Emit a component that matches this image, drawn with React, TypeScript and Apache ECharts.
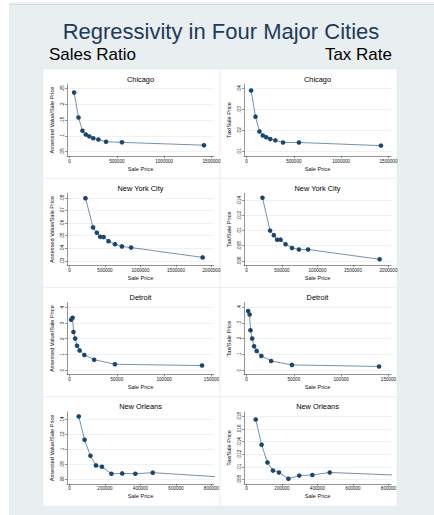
import React, { useEffect, useRef } from "react";
import * as echarts from "echarts";

// ---------------- DATA ----------------
const cities = ["Chicago", "New York City", "Detroit", "New Orleans"];
const salesRatioName = "Assessed Value/Sale Price";
const taxRateName = "Tax/Sale Price";
const xName = "Sale Price";

const chicagoPrice = [49000, 95000, 137000, 172000, 209000, 251000, 305000, 386000, 554000, 1420000];
const chicagoSR = [0.237, 0.158, 0.116, 0.104, 0.098, 0.092, 0.088, 0.081, 0.079, 0.07];
const chicagoTR = [0.039, 0.0266, 0.0195, 0.0176, 0.0168, 0.0159, 0.0153, 0.0143, 0.0143, 0.0128];

const nycPrice = [225000, 332000, 385000, 432000, 480000, 550000, 641000, 738000, 868000, 1875000];
const nycSR = [0.0797, 0.0565, 0.0523, 0.049, 0.0488, 0.0456, 0.0432, 0.0414, 0.0405, 0.0327];
const nycTR = [0.01435, 0.01, 0.0094, 0.0088, 0.0088, 0.0082, 0.0077, 0.0075, 0.0075, 0.0062];

const detroitPrice = [1700, 3300, 4200, 6000, 8000, 10700, 15700, 26000, 48000, 140000];
const detroitSR = [3.2, 3.32, 2.42, 2.0, 1.54, 1.25, 0.96, 0.66, 0.37, 0.29];
const detroitTR = [0.375, 0.353, 0.253, 0.2, 0.151, 0.122, 0.09, 0.058, 0.033, 0.023];

const noPrice = [52000, 85000, 118000, 149000, 183000, 236000, 297000, 371000, 469000, 827000];
const noSR = [0.1444, 0.113, 0.0916, 0.0787, 0.0769, 0.0676, 0.068, 0.0676, 0.069, 0.0636];
const noTR = [0.0175, 0.0135, 0.0107, 0.0094, 0.0091, 0.0081, 0.0086, 0.0087, 0.0091, 0.0087];

const chicagoSRTicks = [0.05, 0.1, 0.15, 0.2, 0.25];
const chicagoTRTicks = [0.01, 0.02, 0.03, 0.04];
const chicagoXTicks = [0, 500000, 1000000, 1500000];
const nycSRTicks = [0.03, 0.04, 0.05, 0.06, 0.07, 0.08];
const nycTRTicks = [0.006, 0.008, 0.01, 0.012, 0.014];
const nycXTicks = [0, 500000, 1000000, 1500000, 2000000];
const detroitSRTicks = [0, 1, 2, 3, 4];
const detroitTRTicks = [0, 0.1, 0.2, 0.3, 0.4];
const detroitXTicks = [0, 50000, 100000, 150000];
const noSRTicks = [0.06, 0.08, 0.1, 0.12, 0.14];
const noTRTicks = [0.008, 0.01, 0.012, 0.014, 0.016, 0.018];
const noXTicks = [0, 200000, 400000, 600000, 800000];

const mainTitle = "Regressivity in Four Major Cities";
const leftHeader = "Sales Ratio";
const rightHeader = "Tax Rate";

// ---------------- STYLE / LAYOUT ----------------
const FONT = "'Liberation Sans', Arial, Helvetica, sans-serif";
const NAVY = "#1a476f";
const AXIS = "#2a2a2a";
const CELL_X = [43, 220];
const CELL_W = 177;
const CELL_Y0 = 69;
const CELL_H = 109.3;
const G_LEFT = 24;
const G_W = 147;
const G_TOP = 15;
const G_H = 72;

type Panel = {
  title: string;
  price: number[];
  values: number[];
  yTicks: number[];
  xTicks: number[];
  yName: string;
  col: number;
  row: number;
};

const panels: Panel[] = [
  { title: cities[0], price: chicagoPrice, values: chicagoSR, yTicks: chicagoSRTicks, xTicks: chicagoXTicks, yName: salesRatioName, col: 0, row: 0 },
  { title: cities[0], price: chicagoPrice, values: chicagoTR, yTicks: chicagoTRTicks, xTicks: chicagoXTicks, yName: taxRateName, col: 1, row: 0 },
  { title: cities[1], price: nycPrice, values: nycSR, yTicks: nycSRTicks, xTicks: nycXTicks, yName: salesRatioName, col: 0, row: 1 },
  { title: cities[1], price: nycPrice, values: nycTR, yTicks: nycTRTicks, xTicks: nycXTicks, yName: taxRateName, col: 1, row: 1 },
  { title: cities[2], price: detroitPrice, values: detroitSR, yTicks: detroitSRTicks, xTicks: detroitXTicks, yName: salesRatioName, col: 0, row: 2 },
  { title: cities[2], price: detroitPrice, values: detroitTR, yTicks: detroitTRTicks, xTicks: detroitXTicks, yName: taxRateName, col: 1, row: 2 },
  { title: cities[3], price: noPrice, values: noSR, yTicks: noSRTicks, xTicks: noXTicks, yName: salesRatioName, col: 0, row: 3 },
  { title: cities[3], price: noPrice, values: noTR, yTicks: noTRTicks, xTicks: noXTicks, yName: taxRateName, col: 1, row: 3 },
];

function fmt(v: number): string {
  if (v === 0) return "0";
  const s = String(+v.toPrecision(8));
  return s.replace(/^0\./, ".").replace(/^-0\./, "-.");
}

function buildOption() {
  const grids: any[] = [];
  const xAxes: any[] = [];
  const yAxes: any[] = [];
  const series: any[] = [];
  const graphics: any[] = [];

  // page background
  graphics.push({ type: "rect", z: -30, shape: { x: 0, y: 0, width: 434, height: 515 }, style: { fill: "#ffffff" } });
  graphics.push({ type: "rect", z: -29, shape: { x: 9, y: 4, width: 425, height: 511 }, style: { fill: "#e9eff1" } });
  graphics.push({
    type: "rect",
    z: -28,
    shape: { x: 9, y: 1, width: 425, height: 4 },
    style: {
      fill: new echarts.graphic.LinearGradient(0, 0, 0, 1, [
        { offset: 0, color: "rgba(0,0,0,0)" },
        { offset: 1, color: "rgba(0,0,0,0.10)" },
      ]),
    },
  });

  graphics.push({
    type: "text",
    z: 10,
    style: { x: 221, y: 31, text: mainTitle, textAlign: "center", textVerticalAlign: "middle", fontSize: 22, fontFamily: FONT, fill: "#22395a" },
  });
  graphics.push({
    type: "text",
    z: 10,
    style: { x: 49, y: 54.5, text: leftHeader, textAlign: "left", textVerticalAlign: "middle", fontSize: 17, fontFamily: FONT, fill: "#000" },
  });
  graphics.push({
    type: "text",
    z: 10,
    style: { x: 392, y: 54.5, text: rightHeader, textAlign: "right", textVerticalAlign: "middle", fontSize: 17, fontFamily: FONT, fill: "#000" },
  });

  panels.forEach((p, i) => {
    const x0 = CELL_X[p.col];
    const y0 = CELL_Y0 + p.row * CELL_H;

    graphics.push({
      type: "rect",
      z: -20,
      shape: { x: x0, y: y0, width: CELL_W, height: CELL_H },
      style: { fill: "#ffffff", stroke: "#e1e8eb", lineWidth: 0.6 },
    });
    graphics.push({
      type: "text",
      z: 10,
      style: {
        x: x0 + G_LEFT + G_W / 2,
        y: y0 + 10,
        text: p.title,
        textAlign: "center",
        textVerticalAlign: "middle",
        fontSize: 7.4,
        fontFamily: FONT,
        fill: "#000",
      },
    });

    grids.push({
      left: x0 + G_LEFT,
      top: y0 + G_TOP,
      width: G_W,
      height: G_H,
      containLabel: false,
      outerBoundsMode: "none",
    });

    const xMax = p.xTicks[p.xTicks.length - 1];
    const xPad = (2.5 / (G_W - 5)) * xMax;
    const lo = Math.min(p.yTicks[0], ...p.values);
    const hi = Math.max(p.yTicks[p.yTicks.length - 1], ...p.values);
    const yPad = 0.0714 * (hi - lo);

    xAxes.push({
      type: "value",
      gridIndex: i,
      min: -xPad,
      max: xMax + xPad,
      axisLine: { show: true, onZero: false, lineStyle: { color: AXIS, width: 0.5 } },
      axisTick: { show: true, length: 2, customValues: p.xTicks, lineStyle: { color: AXIS, width: 0.5 } },
      axisLabel: {
        customValues: p.xTicks,
        formatter: (v: number) => fmt(v),
        fontSize: 4.6,
        margin: 2.5,
        color: "#111",
        fontFamily: FONT,
        hideOverlap: false,
      },
      splitLine: { show: false },
      name: xName,
      nameLocation: "middle",
      nameGap: 9.5,
      nameTextStyle: { fontSize: 5.6, color: "#111", fontFamily: FONT },
    });

    yAxes.push({
      type: "value",
      gridIndex: i,
      min: lo - yPad,
      max: hi + yPad,
      axisLine: { show: true, onZero: false, lineStyle: { color: AXIS, width: 0.5 } },
      axisTick: { show: true, length: 2, customValues: p.yTicks, lineStyle: { color: AXIS, width: 0.5 } },
      axisLabel: {
        customValues: p.yTicks,
        formatter: (v: number) => fmt(v),
        rotate: 90,
        fontSize: 4.6,
        margin: 2.5,
        color: "#111",
        fontFamily: FONT,
        hideOverlap: false,
      },
      splitLine: { show: true, lineStyle: { color: "#e3eaed", width: 0.6 } },
      name: p.yName,
      nameLocation: "middle",
      nameGap: 12,
      nameTextStyle: { fontSize: 5.6, color: "#111", fontFamily: FONT },
    });

    series.push({
      type: "line",
      xAxisIndex: i,
      yAxisIndex: i,
      data: p.price.map((x, j) => [x, p.values[j]]),
      symbol: "circle",
      symbolSize: 4.6,
      showSymbol: true,
      lineStyle: { color: NAVY, width: 0.6 },
      itemStyle: { color: NAVY },
      silent: true,
      z: 5,
    });
  });

  return {
    animation: false,
    backgroundColor: "#ffffff",
    textStyle: { fontFamily: FONT },
    grid: grids,
    xAxis: xAxes,
    yAxis: yAxes,
    series,
    graphic: { elements: graphics },
  };
}

export default function App() {
  const ref = useRef<HTMLDivElement>(null);
  useEffect(() => {
    if (!ref.current) return;
    const chart = echarts.init(ref.current, null, { renderer: "svg" });
    chart.setOption(buildOption() as any);
    return () => chart.dispose();
  }, []);
  return (
    <div
      ref={ref}
      style={{ position: "fixed", left: 0, top: 0, width: 434, height: 515 }}
    />
  );
}
